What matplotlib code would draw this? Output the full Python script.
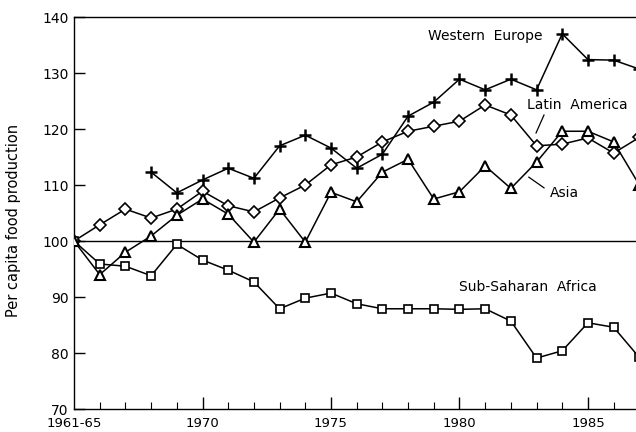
import matplotlib
matplotlib.use("Agg")
import matplotlib.pyplot as plt
import numpy as np

years = list(range(1965, 1988))
we_years = list(range(1968, 1988))
western_europe = [112.3, 108.6, 110.9, 113.0, 111.2, 117.0, 118.9, 116.6, 113.0, 115.5,
                  122.3, 124.8, 128.9, 127.0, 128.9, 127.0, 137.0, 132.4, 132.3, 130.7]
latin_america = [100.0, 102.9, 105.7, 104.1, 105.7, 108.9, 106.3, 105.2, 107.7, 110.0,
                 113.6, 115.0, 117.7, 119.6, 120.5, 121.4, 124.3, 122.5, 117.0, 117.3,
                 118.4, 115.7, 118.5]
asia = [100.0, 94.0, 98.0, 100.9, 104.6, 107.5, 104.8, 99.8, 105.7, 99.8,
        108.7, 107.0, 112.3, 114.6, 107.5, 108.8, 113.4, 109.4, 114.1, 119.6,
        119.6, 117.7, 110.0]
ss_africa = [100.0, 95.9, 95.5, 93.8, 99.4, 96.6, 94.8, 92.7, 87.9, 89.8,
             90.7, 88.8, 87.9, 87.9, 87.9, 87.8, 87.9, 85.7, 79.1, 80.4,
             85.4, 84.6, 79.2]

major_ticks = [1965, 1970, 1975, 1980, 1985]
major_labels = ["1961-65", "1970", "1975", "1980", "1985"]
y_ticks = [70, 80, 90, 100, 110, 120, 130, 140]

plt.rcParams['font.family'] = ['DejaVu Sans']
fig = plt.figure(figsize=(6.36, 4.32), dpi=100)
ax = fig.add_axes([0.1164, 0.0532, 0.8836, 0.9074])

ax.axhline(100, color='black', lw=1.0, zorder=1)

lw = 1.1
ax.plot(we_years, western_europe, color='black', lw=lw, marker='+', ms=9, mew=1.8, zorder=3)
ax.plot(years, latin_america, color='black', lw=lw, marker='D', ms=6, mfc='white', mec='black', mew=1.2, zorder=4)
ax.plot(years, asia, color='black', lw=lw, marker='^', ms=7, mfc='white', mec='black', mew=1.5, zorder=5)
ax.plot(years, ss_africa, color='black', lw=lw, marker='s', ms=5.5, mfc='white', mec='black', mew=1.2, zorder=4)

fs = 10
ax.text(1978.77, 136.6, "Western  Europe", fontsize=fs, va='center', ha='left')
ax.text(1982.63, 124.3, "Latin  America", fontsize=fs, va='center', ha='left')
ax.plot([1983.29, 1982.98], [122.5, 119.3], color='black', lw=0.9)
ax.text(1983.52, 108.6, "Asia", fontsize=fs, va='center', ha='left')
ax.plot([1982.70, 1983.29], [111.4, 109.5], color='black', lw=0.9)
ax.text(1979.98, 91.8, "Sub-Saharan  Africa", fontsize=fs, va='center', ha='left')

ax.set_xlim(1965, 1986.87)
ax.set_ylim(70, 140)
ax.set_yticks(y_ticks)
ax.set_xticks(major_ticks)
ax.set_xticklabels(major_labels)
ax.set_xticks([y for y in years if y not in major_ticks and y <= 1986], minor=True)
ax.tick_params(axis='x', which='major', direction='in', length=9, width=1.0, labelsize=9.5, pad=6)
ax.tick_params(axis='x', which='minor', direction='in', length=5, width=0.8)
ax.tick_params(axis='y', direction='in', length=8, width=1.0, labelsize=fs, pad=4)
ax.xaxis.get_major_ticks()[0].tick1line.set_visible(False)

ax.spines['right'].set_visible(False)
for s in ['left', 'bottom', 'top']:
    ax.spines[s].set_linewidth(1.0)

ax.set_ylabel("Per capita food production", fontsize=10.5)
ax.yaxis.set_label_coords(-0.095, 0.48)

fig.savefig("out.png", dpi=100)
